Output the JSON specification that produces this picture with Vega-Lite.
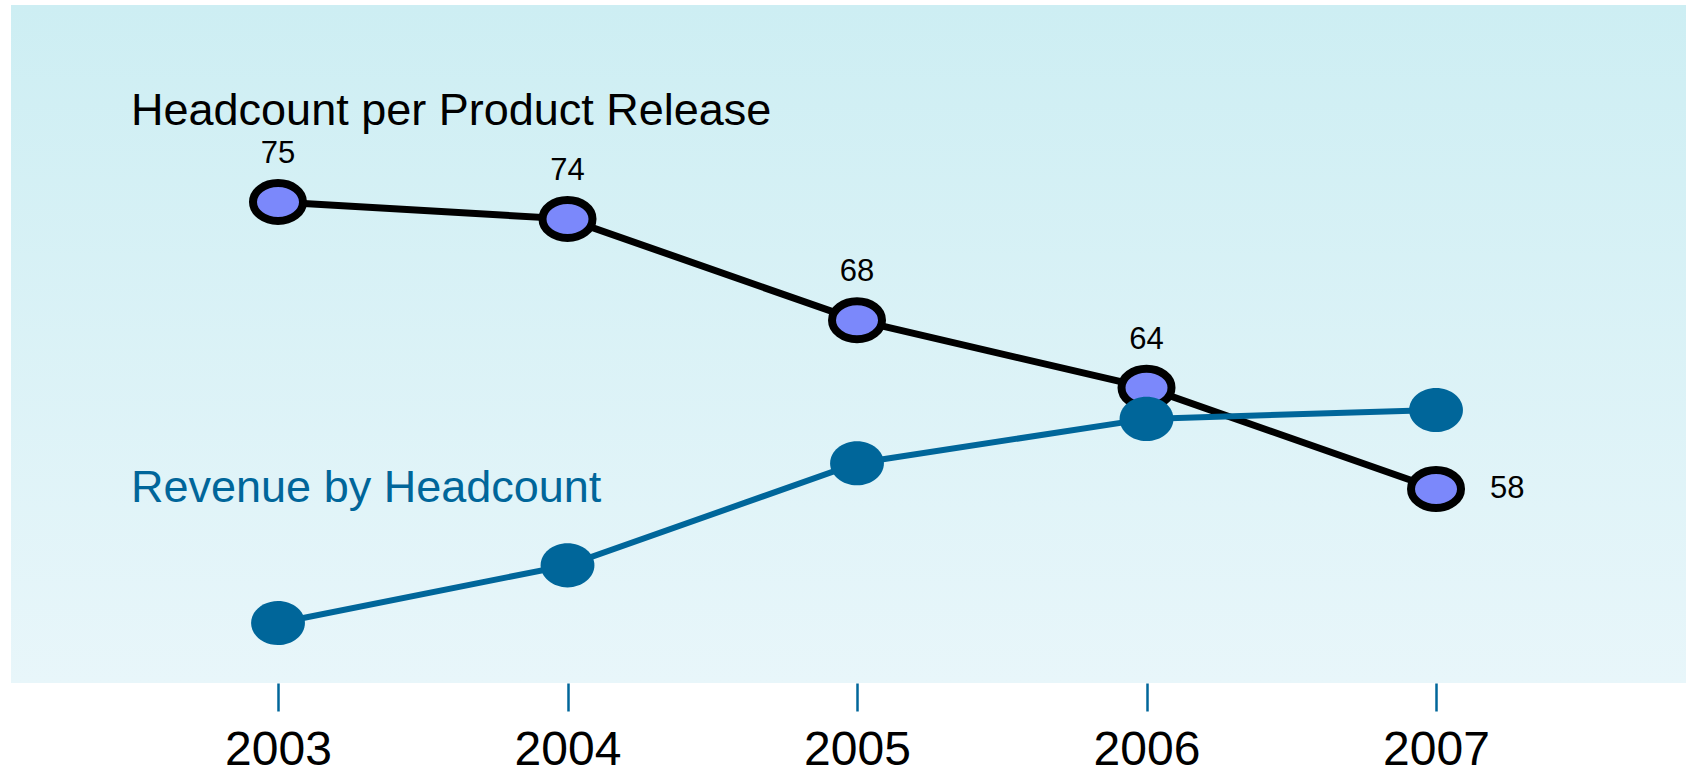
{
  "$schema": "https://vega.github.io/schema/vega-lite/v6.json",
  "autosize": {"type": "none"},
  "padding": {"left": 11, "top": 5, "right": 3, "bottom": 90},
  "width": 1675,
  "height": 678,
  "background": "white",
  "config": {"view": {"stroke": null}, "font": "Liberation Sans"},
  "datasets": {
    "headcount": [
      {"year": 2003, "value": 75},
      {"year": 2004, "value": 74},
      {"year": 2005, "value": 68},
      {"year": 2006, "value": 64},
      {"year": 2007, "value": 58}
    ],
    "revenue": [
      {"year": 2003, "revenue_index": 100},
      {"year": 2004, "revenue_index": 113},
      {"year": 2005, "revenue_index": 136},
      {"year": 2006, "revenue_index": 146},
      {"year": 2007, "revenue_index": 148}
    ]
  },
  "encoding": {
    "x": {
      "field": "year",
      "type": "quantitative",
      "scale": {"domain": [2002.0777, 2007.8635], "nice": false, "zero": false},
      "axis": {
        "title": null,
        "values": [2003, 2004, 2005, 2006, 2007],
        "format": "d",
        "domain": false,
        "grid": false,
        "ticks": true,
        "tickColor": "#00669a",
        "tickWidth": 2.5,
        "tickSize": 28,
        "labelFont": "Liberation Sans",
        "labelFontSize": 48,
        "labelColor": "black",
        "labelPadding": 15,
        "labelBaseline": "top"
      }
    }
  },
  "layer": [
    {
      "data": {"values": [{}]},
      "mark": {
        "type": "rect",
        "fill": {
          "gradient": "linear",
          "x1": 0, "y1": 0, "x2": 0, "y2": 1,
          "stops": [
            {"offset": 0, "color": "#cdeef3"},
            {"offset": 1, "color": "#e8f6fa"}
          ]
        }
      },
      "encoding": {
        "x": {"value": 0},
        "x2": {"value": "width"},
        "y": {"value": 0},
        "y2": {"value": "height"}
      }
    },
    {
      "data": {"name": "headcount"},
      "encoding": {
        "y": {"field": "value", "type": "quantitative", "scale": {"domain": [46.508, 86.669], "nice": false, "zero": false}, "axis": null}
      },
      "layer": [
        {"mark": {"type": "line", "color": "black", "strokeWidth": 7}},
        {
          "mark": {
            "type": "point",
            "shape": "M-1,0A1,0.76,0,1,1,1,0A1,0.76,0,1,1,-1,0Z",
            "size": 2500,
            "filled": true,
            "fill": "#7b88fb",
            "stroke": "black",
            "strokeWidth": 8,
            "opacity": 1
          }
        },
        {
          "transform": [{"filter": "datum.year < 2007"}],
          "mark": {"type": "text", "fontSize": 31, "align": "center", "baseline": "alphabetic", "dy": -39, "color": "black"},
          "encoding": {"text": {"field": "value", "type": "quantitative"}}
        },
        {
          "transform": [{"filter": "datum.year == 2007"}],
          "mark": {"type": "text", "fontSize": 31, "align": "left", "baseline": "middle", "dx": 54, "dy": 0, "color": "black"},
          "encoding": {"text": {"field": "value", "type": "quantitative"}}
        },
        {
          "transform": [{"filter": "datum.year == 2003"}],
          "mark": {"type": "text", "fontSize": 45, "align": "left", "baseline": "alphabetic", "dx": -147, "dy": -77, "color": "black"},
          "encoding": {"text": {"value": "Headcount per Product Release"}}
        }
      ]
    },
    {
      "data": {"name": "revenue"},
      "encoding": {
        "y": {"field": "revenue_index", "type": "quantitative", "scale": {"domain": [86.48, 239.27], "nice": false, "zero": false}, "axis": null}
      },
      "layer": [
        {"mark": {"type": "line", "color": "#00669a", "strokeWidth": 6}},
        {
          "mark": {
            "type": "point",
            "shape": "M-1,0A1,0.82,0,1,1,1,0A1,0.82,0,1,1,-1,0Z",
            "size": 2900,
            "filled": true,
            "fill": "#00669a",
            "strokeWidth": 0,
            "opacity": 1
          }
        },
        {
          "transform": [{"filter": "datum.year == 2003"}],
          "mark": {"type": "text", "fontSize": 45, "align": "left", "baseline": "alphabetic", "dx": -147, "dy": -121, "color": "#00669a"},
          "encoding": {"text": {"value": "Revenue by Headcount"}}
        }
      ]
    }
  ],
  "resolve": {"scale": {"y": "independent"}}
}
